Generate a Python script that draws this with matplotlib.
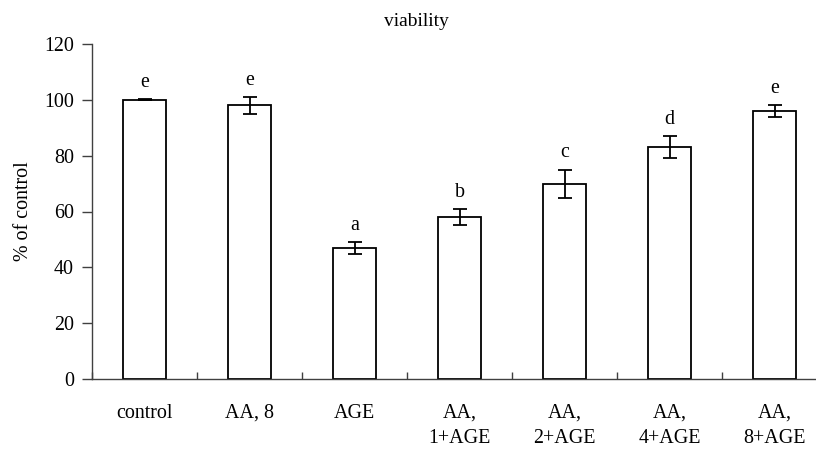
import matplotlib
matplotlib.use("Agg")
import matplotlib.pyplot as plt
import numpy as np

categories = ["control", "AA, 8", "AGE", "AA,\n1+AGE", "AA,\n2+AGE", "AA,\n4+AGE", "AA,\n8+AGE"]
values = [100, 98, 47, 58, 70, 83, 96]
errors = [0.2, 3, 2.1, 3, 5, 4, 2.2]
letters = ["e", "e", "a", "b", "c", "d", "e"]
y_ticks = [0, 20, 40, 60, 80, 100, 120]

plt.rcParams['font.family'] = ['Liberation Serif', 'DejaVu Serif']
plt.rcParams['font.size'] = 14.4

fig = plt.figure(figsize=(8.16, 4.5), dpi=100)
ax = fig.add_axes([92/816, 71/450, 735/816, 335/450])

x = np.arange(len(categories))
ax.bar(x, values, width=0.41, color='white', edgecolor='black', linewidth=1.3, zorder=2)
ax.errorbar(x, values, yerr=errors, fmt='none', ecolor='black', elinewidth=1.3,
            capsize=5, capthick=1.3, zorder=3)
for xi, v, e, l in zip(x, values, errors, letters):
    ax.annotate(l, (xi, v + e), xytext=(0, 12), textcoords='offset points',
                ha='center', va='center', fontsize=14.4)

ax.set_xlim(-0.5, 6.5)
ax.set_ylim(0, 120)
ax.set_yticks(y_ticks)
ax.set_xticks(x)
ax.set_xticklabels(categories, linespacing=1.45)
ax.set_xticks(np.arange(-0.5, 7, 1), minor=True)
ax.tick_params(axis='x', which='major', length=0, pad=18)
ax.tick_params(axis='x', which='minor', direction='in', length=5, width=1, color='#404040')
ax.tick_params(axis='y', direction='out', length=7, width=1, color='#404040', pad=6)
for s in ['top', 'right']:
    ax.spines[s].set_visible(False)
for s in ['left', 'bottom']:
    ax.spines[s].set_color('#404040')
    ax.spines[s].set_linewidth(1)

ax.set_ylabel("% of control", labelpad=8)
fig.text(416/816, 1 - 22/450, "viability", ha='center', va='center', fontsize=14)

fig.savefig("out.png", dpi=100)
